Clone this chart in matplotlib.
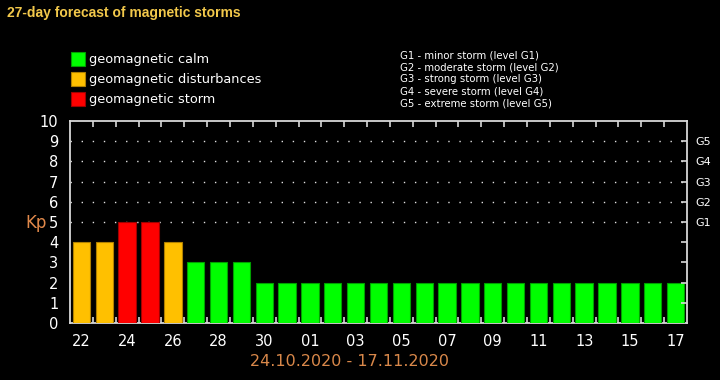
import matplotlib
matplotlib.use("Agg")
import matplotlib.pyplot as plt
from matplotlib.patches import Rectangle

# ---- data ----
days = ['22', '23', '24', '25', '26', '27', '28', '29', '30', '31',
        '01', '02', '03', '04', '05', '06', '07', '08', '09', '10',
        '11', '12', '13', '14', '15', '16', '17']
kp = [4, 4, 5, 5, 4, 3, 3, 3, 2, 2,
      2, 2, 2, 2, 2, 2, 2, 2, 2, 2,
      2, 2, 2, 2, 2, 2, 2]
legend_labels = ['geomagnetic calm', 'geomagnetic disturbances', 'geomagnetic storm']
g_levels = ['G1', 'G2', 'G3', 'G4', 'G5']
g_values = [5, 6, 7, 8, 9]
g_desc = ['G1 - minor storm (level G1)',
          'G2 - moderate storm (level G2)',
          'G3 - strong storm (level G3)',
          'G4 - severe storm (level G4)',
          'G5 - extreme storm (level G5)']
title = '27-day forecast of magnetic storms'
period = '24.10.2020 - 17.11.2020'

# ---- style ----
C_CALM, C_DIST, C_STORM = '#00ff00', '#ffc000', '#ff0000'
E_CALM, E_DIST, E_STORM = '#00a000', '#b08000', '#a00000'
def colors_for(v):
    if v >= 5:
        return C_STORM, E_STORM
    if v == 4:
        return C_DIST, E_DIST
    return C_CALM, E_CALM

fig = plt.figure(figsize=(7.2, 3.8), dpi=100, facecolor='black')
ax = fig.add_axes([70/720, 1 - 323/380, 617/720, 202/380])
ax.set_facecolor('black')

x = list(range(len(days)))
fc = [colors_for(v)[0] for v in kp]
ec = [colors_for(v)[1] for v in kp]
ax.bar(x, kp, width=0.76, color=fc, edgecolor=ec, linewidth=0.8, zorder=3)

ax.set_xlim(-0.5, len(days) - 0.5)
ax.set_ylim(0, 10)

# gridlines for G levels
for gv in g_values:
    ax.axhline(gv, color='#e0e0e0', linestyle=(0, (1, 7)), linewidth=1.0, zorder=1)

for s in ax.spines.values():
    s.set_color('#d8d8d8')
    s.set_linewidth(1.3)

ax.set_yticks(range(0, 11))
ax.set_yticklabels([str(i) for i in range(0, 11)])
ax.tick_params(axis='y', left=False, labelcolor='white', labelsize=10.5, pad=5)

ax.set_xticks(x[::2])
ax.set_xticklabels(days[::2])
ax.tick_params(axis='x', which='major', length=0, labelcolor='white', labelsize=10.5, pad=8)
ax.set_xticks([i + 0.5 for i in x[:-1]], minor=True)
ax.tick_params(axis='x', which='minor', direction='in', length=4, width=1.2,
               color='#d8d8d8', top=True, bottom=True)

# right axis: inward ticks and G labels
ax2 = ax.twinx()
ax2.set_ylim(0, 10)
ax2.set_yticks(range(1, 10))
ax2.set_yticklabels(['', '', '', ''] + g_levels)
ax2.tick_params(axis='y', direction='in', length=4, width=1.2, color='#d8d8d8',
                labelcolor='white', labelsize=8, pad=6)
for s in ax2.spines.values():
    s.set_visible(False)

# texts
fig.text(7/720, 1 - 13/380, title, color='#f2c84b', fontsize=10,
         fontweight='bold', family='Liberation Sans', ha='left', va='center')
fig.text(25/720, 1 - 223/380, 'Kp', color='#e0884a', fontsize=12, ha='left', va='center')
fig.text(350/720, 1 - 361/380, period, color='#d9884a', fontsize=11.5, ha='center', va='center')

# legend
leg_colors = [(C_CALM, E_CALM), (C_DIST, E_DIST), (C_STORM, E_STORM)]
for i, (lab, (c, e)) in enumerate(zip(legend_labels, leg_colors)):
    yc = 59 + i * 20
    fig.patches.append(Rectangle((71/720, 1 - (yc + 7)/380), 14/720, 14/380,
                                 transform=fig.transFigure, facecolor=c,
                                 edgecolor=e, linewidth=0.8))
    fig.text(89/720, 1 - yc/380, lab, color='white', fontsize=9.3, ha='left', va='center')

for i, d in enumerate(g_desc):
    fig.text(400/720, 1 - (55 + i * 12)/380, d, color='white', fontsize=7.3,
             ha='left', va='center')

fig.savefig('out.png', dpi=100, facecolor='black')
